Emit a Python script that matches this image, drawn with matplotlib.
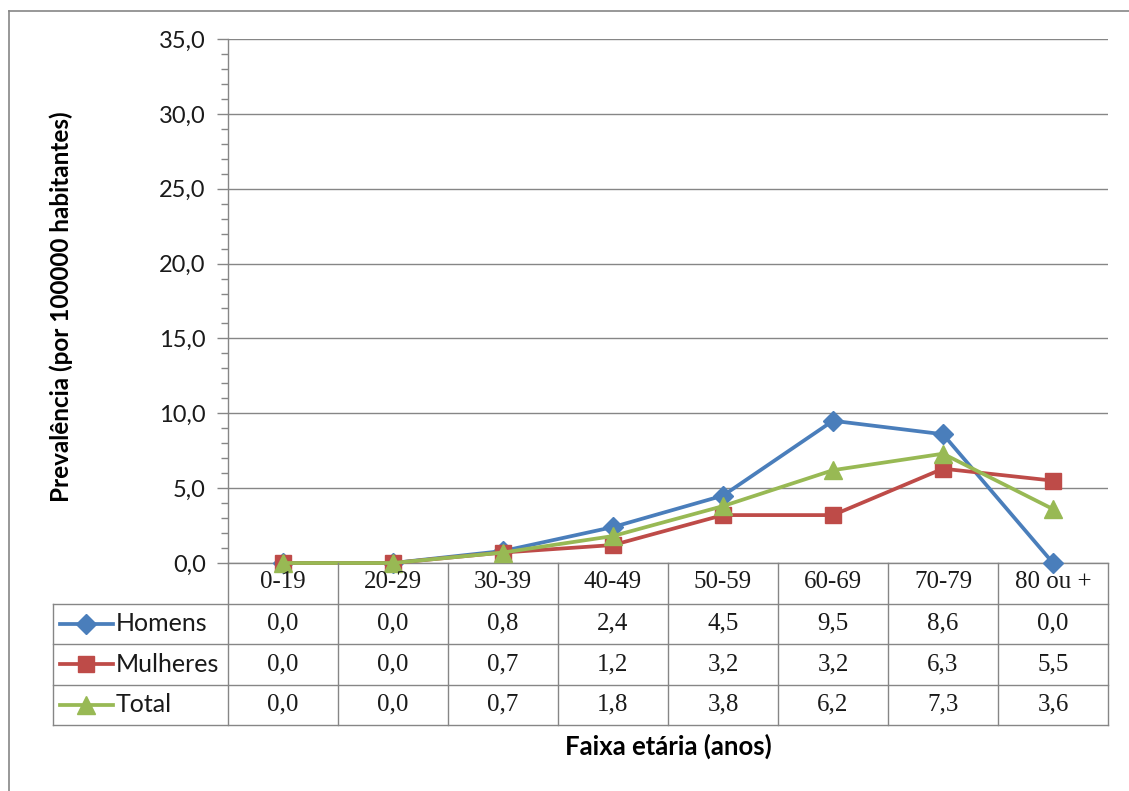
import matplotlib
matplotlib.use("Agg")
import matplotlib.pyplot as plt
from matplotlib.lines import Line2D
from matplotlib.ticker import MultipleLocator, FuncFormatter

# Age groups and prevalence (per 100000 inhabitants)
faixas = ["0-19", "20-29", "30-39", "40-49", "50-59", "60-69", "70-79", "80 ou +"]
homens = [0.0, 0.0, 0.8, 2.4, 4.5, 9.5, 8.6, 0.0]
mulheres = [0.0, 0.0, 0.7, 1.2, 3.2, 3.2, 6.3, 5.5]
total = [0.0, 0.0, 0.7, 1.8, 3.8, 6.2, 7.3, 3.6]
series_names = ["Homens", "Mulheres", "Total"]

W, H = 1129, 791
fig = plt.figure(figsize=(W / 100, H / 100), dpi=100)
fig.patch.set_facecolor("white")

SANS = ["Lato", "DejaVu Sans"]
SERIF = ["Liberation Serif", "DejaVu Serif"]
GRID = "#868686"

styles = [
    dict(color="#4A7EBB", marker="D", ms=10),
    dict(color="#BE4B48", marker="s", ms=11.5),
    dict(color="#98B954", marker="^", ms=12.5),
]
values = [homens, mulheres, total]

# pixel geometry of the plot area and table
px_left, px_right, px_top, px_bottom = 228, 1108, 39, 563
tab_left, tab_bottom = 53, 725

ax = fig.add_axes([px_left / W, 1 - px_bottom / H,
                   (px_right - px_left) / W, (px_bottom - px_top) / H])
n = len(faixas)
x = list(range(n))
ax.set_xlim(-0.5, n - 0.5)
ax.set_ylim(0, 35)
ax.yaxis.set_major_locator(MultipleLocator(5))
ax.yaxis.set_minor_locator(MultipleLocator(1))
ax.yaxis.set_major_formatter(FuncFormatter(lambda v, p: f"{v:.1f}".replace(".", ",")))
ax.grid(axis="y", which="major", color=GRID, lw=1.0)
ax.set_axisbelow(True)
ax.set_xticks([])
for s in ("top", "right"):
    ax.spines[s].set_visible(False)
for s in ("left", "bottom"):
    ax.spines[s].set_color(GRID)
    ax.spines[s].set_linewidth(1.0)
ax.tick_params(axis="y", which="major", length=8, width=1, color=GRID,
               labelsize=17, pad=8, labelcolor="#1a1a1a")
ax.tick_params(axis="y", which="minor", length=5, width=1, color=GRID)
for lab in ax.get_yticklabels():
    lab.set_family(SANS)

for vals, st in zip(values, styles):
    ax.plot(x, vals, color=st["color"], lw=2.7, marker=st["marker"],
            ms=st["ms"], mfc=st["color"], mec=st["color"], clip_on=False, zorder=3)

ax.set_ylabel("Prevalência (por 100000 habitantes)", fontsize=17.5,
              fontweight="bold", family=SANS)
ax.yaxis.set_label_coords((73 - px_left) / (px_right - px_left), 0.49)

# data table under the plot
col_w = (px_right - px_left) / n
head_w = (px_left - tab_left) / col_w
tab = fig.add_axes([tab_left / W, 1 - tab_bottom / H,
                    (px_right - tab_left) / W, (tab_bottom - px_bottom) / H])
tab.set_xlim(-0.5 - head_w, n - 0.5)
tab.set_ylim(4, 0)
tab.axis("off")
lk = dict(color=GRID, lw=1.0, clip_on=False)
x0 = -0.5 - head_w
for i in range(n + 1):
    tab.plot([i - 0.5, i - 0.5], [0, 4], **lk)
tab.plot([x0, x0], [1, 4], **lk)
for r in range(1, 5):
    tab.plot([x0, n - 0.5], [r, r], **lk)

for i, f in enumerate(faixas):
    tab.text(i, 0.47, f, ha="center", va="center", fontsize=18, family=SERIF,
             color="#1a1a1a")
for r, (name, vals, st) in enumerate(zip(series_names, values, styles), start=1):
    for i, v in enumerate(vals):
        tab.text(i, r + 0.5, f"{v:.1f}".replace(".", ","), ha="center",
                 va="center", fontsize=18, family=SERIF, color="#1a1a1a")
    kx0 = x0 + 7 / col_w
    kx1 = x0 + 60 / col_w
    tab.plot([kx0, kx1], [r + 0.5, r + 0.5], color=st["color"], lw=2.7, clip_on=False)
    tab.plot([(kx0 + kx1) / 2], [r + 0.5], marker=st["marker"], ms=st["ms"],
             color=st["color"], clip_on=False)
    tab.text(x0 + 63 / col_w, r + 0.5, name, ha="left", va="center",
             fontsize=18, family=SANS, color="#1a1a1a")

fig.text((px_left + px_right) / 2 / W, 1 - 746 / H, "Faixa etária (anos)",
         ha="center", va="center", fontsize=18.5, fontweight="bold", family=SANS)

# chart area frame
fig.add_artist(Line2D([9 / W, 9 / W], [0, 1 - 11 / H], color=GRID, lw=1.2,
                      transform=fig.transFigure))
fig.add_artist(Line2D([9 / W, 1], [1 - 11 / H, 1 - 11 / H], color=GRID, lw=1.2,
                      transform=fig.transFigure))

fig.savefig("out.png", dpi=100, facecolor="white")
